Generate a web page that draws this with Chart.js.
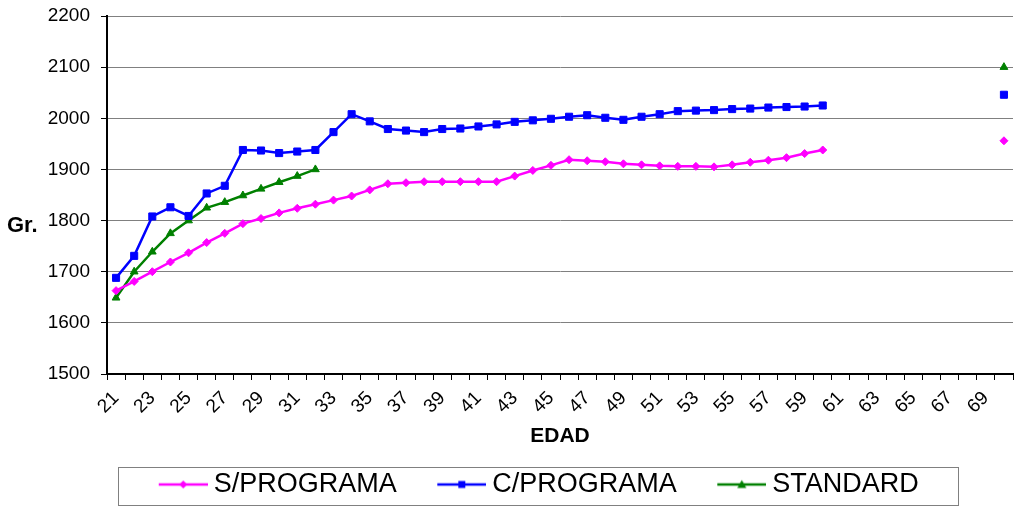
<!DOCTYPE html>
<html lang="es">
<head>
<meta charset="utf-8">
<title>Peso por edad</title>
<script src="https://cdn.jsdelivr.net/npm/chart.js@4.4.1/dist/chart.umd.min.js"></script>
<style>
  html, body { margin: 0; padding: 0; background: #ffffff; }
  #wrap { width: 1019px; height: 508px; }
</style>
</head>
<body>
<div id="wrap"><canvas id="grafico" width="1019" height="508"></canvas></div>
<script>
// Edades (eje X)
const edades = [21, 22, 23, 24, 25, 26, 27, 28, 29, 30,
                31, 32, 33, 34, 35, 36, 37, 38, 39, 40,
                41, 42, 43, 44, 45, 46, 47, 48, 49, 50,
                51, 52, 53, 54, 55, 56, 57, 58, 59, 60,
                61, 62, 63, 64, 65, 66, 67, 68, 69, 70];

// Peso (Gr.) sin programa
const sPrograma = [1663, 1681, 1700, 1719, 1737, 1757, 1775, 1794, 1804, 1815,
                   1824, 1832, 1840, 1848, 1860, 1872, 1874, 1876, 1876, 1876,
                   1876, 1876, 1887, 1898, 1908, 1919, 1917, 1915, 1911, 1909,
                   1907, 1906, 1906, 1905, 1909, 1914, 1918, 1923, 1931, 1938,
                   null, null, null, null, null, null, null, null, null, 1956];

// Peso (Gr.) con programa
const cPrograma = [1688, 1731, 1808, 1826, 1809, 1853, 1868, 1938, 1937, 1932,
                   1935, 1938, 1973, 2008, 1994, 1979, 1976, 1973, 1979, 1980,
                   1984, 1988, 1993, 1996, 1999, 2003, 2006, 2001, 1997, 2003,
                   2008, 2014, 2015, 2016, 2018, 2019, 2021, 2022, 2023, 2025,
                   null, null, null, null, null, null, null, null, null, 2046];

// Peso estándar
const standard = [1649, 1700, 1739, 1775, 1800, 1825, 1836, 1849, 1862, 1875,
                  1887, 1900, null, null, null, null, null, null, null, null,
                  null, null, null, null, null, null, null, null, null, null,
                  null, null, null, null, null, null, null, null, null, null,
                  null, null, null, null, null, null, null, null, null, 2100];

// Etiquetas visibles del eje X (una de cada dos edades)
const etiquetasX = ['21', '23', '25', '27', '29', '31', '33', '35', '37', '39',
                    '41', '43', '45', '47', '49', '51', '53', '55', '57', '59',
                    '61', '63', '65', '67', '69'];

// Eje Y
const yMin = 1500;
const yMax = 2200;
const yPaso = 100;

const FUENTE = '"Liberation Sans", Arial, sans-serif';
const ANCHO_MUESTRA = 74;   // ancho de caja de la leyenda
const ANCHO_IMAGEN = 89;    // imagen de la muestra (línea + marcador)
const LARGO_LINEA = 49;

// Muestra de leyenda: trazo con el marcador de la serie en el centro
function muestra(color, forma) {
  const c = document.createElement('canvas');
  c.width = ANCHO_IMAGEN;
  c.height = 14;
  const g = c.getContext('2d');
  const x0 = ANCHO_IMAGEN - LARGO_LINEA;
  const cy = 7;
  g.strokeStyle = color;
  g.fillStyle = color;
  g.lineWidth = 2.5;
  g.beginPath();
  g.moveTo(x0, cy);
  g.lineTo(ANCHO_IMAGEN, cy);
  g.stroke();
  const cx = x0 + LARGO_LINEA / 2;
  g.beginPath();
  if (forma === 'rect') {
    g.rect(cx - 3.5, cy - 3.5, 7, 7);
  } else if (forma === 'triangle') {
    g.moveTo(cx, cy - 4.5);
    g.lineTo(cx + 4.5, cy + 3.5);
    g.lineTo(cx - 4.5, cy + 3.5);
    g.closePath();
  } else {
    g.moveTo(cx, cy - 4);
    g.lineTo(cx + 4, cy);
    g.lineTo(cx, cy + 4);
    g.lineTo(cx - 4, cy);
    g.closePath();
  }
  g.fill();
  return c;
}

const series = [
  { label: 'S/PROGRAMA', data: sPrograma, color: '#FF00FF', forma: 'rectRot', radio: 4, ancho: 2.5 },
  { label: 'C/PROGRAMA', data: cPrograma, color: '#0000FF', forma: 'rect', radio: 5, ancho: 2.5 },
  { label: 'STANDARD',   data: standard,  color: '#008000', forma: 'triangle', radio: 4.5, ancho: 2.5 }
];

// Título horizontal del eje Y y marco de la leyenda
const extras = {
  id: 'extras',
  afterDraw(chart) {
    const ctx = chart.ctx;
    ctx.save();
    ctx.fillStyle = '#000';
    ctx.font = 'bold 22px ' + FUENTE;
    ctx.textBaseline = 'alphabetic';
    ctx.textAlign = 'left';
    ctx.fillText('Gr.', 7, 232);

    const hb = chart.legend.legendHitBoxes;
    if (hb && hb.length) {
      const first = hb[0];
      const last = hb[hb.length - 1];
      const left = first.left + (ANCHO_MUESTRA + 7.5 - LARGO_LINEA) - 41;
      const right = last.left + last.width + 39;
      const cy = first.top + first.height / 2;
      ctx.strokeStyle = '#808080';
      ctx.lineWidth = 1;
      ctx.strokeRect(Math.round(left) + 0.5, Math.round(cy - 18) + 0.5,
                     Math.round(right - left), 38);
    }
    ctx.restore();
  }
};

new Chart(document.getElementById('grafico'), {
  type: 'line',
  data: {
    labels: edades.map(String),
    datasets: series.map(s => ({
      label: s.label,
      data: s.data,
      borderColor: s.color,
      backgroundColor: s.color,
      pointBackgroundColor: s.color,
      pointBorderColor: s.color,
      pointStyle: s.forma,
      pointRadius: s.radio,
      pointBorderWidth: 1,
      borderWidth: s.ancho,
      tension: 0,
      spanGaps: false,
      fill: false,
      muestra: muestra(s.color, s.forma)
    }))
  },
  options: {
    responsive: false,
    devicePixelRatio: 1,
    animation: false,
    layout: { padding: { top: 16, right: 2, bottom: 0, left: 28 } },
    plugins: {
      tooltip: { enabled: false },
      legend: {
        position: 'bottom',
        labels: {
          usePointStyle: true,
          pointStyleWidth: ANCHO_MUESTRA,
          padding: 8,
          color: '#000',
          font: { family: FUENTE, size: 27 },
          generateLabels(chart) {
            return chart.data.datasets.map((d, i) => ({
              text: d.label,
              fillStyle: d.borderColor,
              strokeStyle: d.borderColor,
              lineWidth: 0,
              pointStyle: d.muestra,
              hidden: false,
              datasetIndex: i
            }));
          }
        }
      }
    },
    scales: {
      x: {
        type: 'category',
        offset: true,
        afterFit(scale) {
          scale.height = 89;
          scale.paddingLeft = 0;
          scale.paddingRight = 0;
        },
        border: { display: true, color: '#000', width: 2 },
        grid: {
          display: true,
          offset: true,
          drawOnChartArea: false,
          drawTicks: true,
          tickLength: 6,
          tickColor: '#000'
        },
        ticks: {
          autoSkip: false,
          minRotation: 45,
          maxRotation: 45,
          padding: 7,
          color: '#000',
          font: { family: FUENTE, size: 19 },
          callback(value, index) {
            const txt = String(edades[index]);
            return etiquetasX.includes(txt) ? txt : '';
          }
        },
        title: {
          display: true,
          text: 'EDAD',
          color: '#000',
          font: { family: FUENTE, size: 21, weight: 'bold' },
          padding: { top: 4, bottom: 14 }
        }
      },
      y: {
        min: yMin,
        max: yMax,
        afterFit(scale) {
          scale.width = 79;
          scale.paddingTop = 0;
          scale.paddingBottom = 0;
          scale.paddingLeft = 0;
          scale.paddingRight = 0;
        },
        border: { display: true, color: '#000', width: 2 },
        grid: {
          color: '#808080',
          lineWidth: 1,
          drawTicks: true,
          tickLength: 6,
          tickColor: '#000'
        },
        ticks: {
          stepSize: yPaso,
          padding: 11,
          color: '#000',
          font: { family: FUENTE, size: 19 },
          callback(value) { return String(value); }
        }
      }
    }
  },
  plugins: [extras]
});
</script>
</body>
</html>
